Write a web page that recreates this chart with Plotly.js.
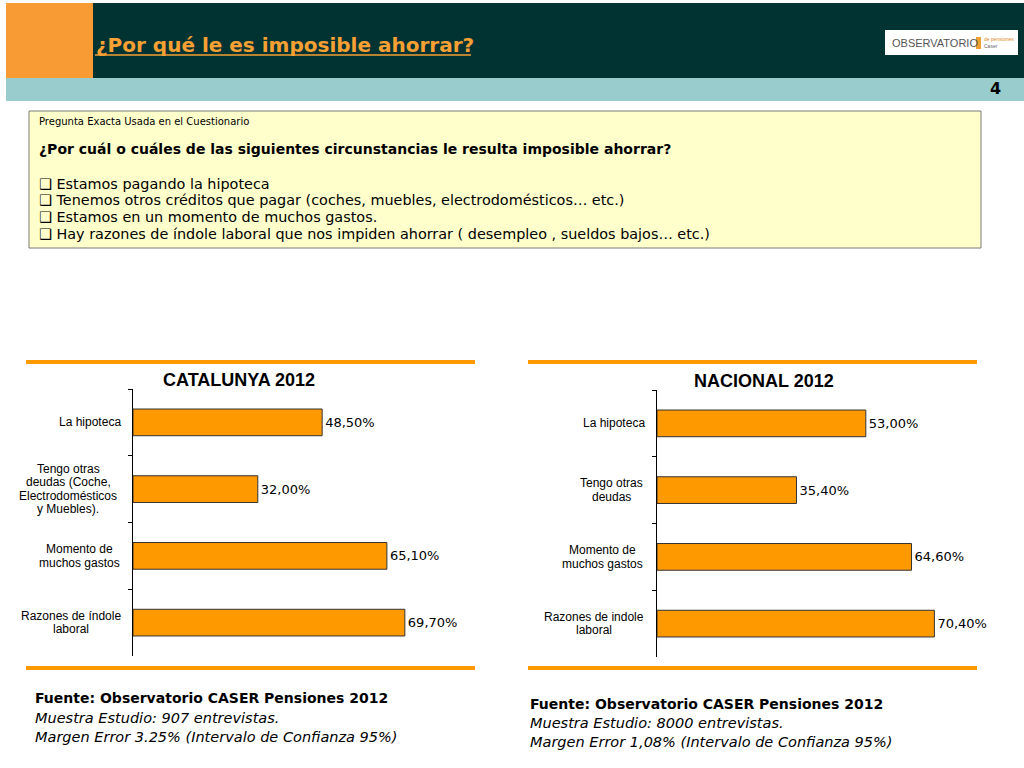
<!DOCTYPE html>
<html>
<head>
<meta charset="utf-8">
<script src="https://cdn.plot.ly/plotly-3.0.1.min.js"></script>
<style>html,body{margin:0;padding:0;background:#fff;}#chart{width:1024px;height:768px;}</style>
</head>
<body>
<div id="chart"></div>
<script>
// ---- Data ----
const categoriesCatalunya = ["La hipoteca", "Tengo otras<br>deudas (Coche,<br>Electrodomésticos<br>y Muebles).", "Momento de<br>muchos gastos", "Razones de índole<br>laboral"];
const valuesCatalunya = [48.5, 32.0, 65.1, 69.7];
const categoriesNacional = ["La hipoteca", "Tengo otras<br>deudas", "Momento de<br>muchos gastos", "Razones de indole<br>laboral"];
const valuesNacional = [53.0, 35.4, 64.6, 70.4];
const chartTitles = ["CATALUNYA 2012", "NACIONAL 2012"];
const pageTitle = "¿Por qué le es imposible ahorrar?";
const pageNumber = "4";
const questionHeader = "Pregunta Exacta Usada en el Cuestionario";
const questionText = "¿Por cuál o cuáles de las siguientes circunstancias le resulta imposible ahorrar?";
const questionOptions = [
  "Estamos pagando la hipoteca",
  "Tenemos otros créditos que pagar (coches, muebles, electrodomésticos… etc.)",
  "Estamos en un momento de muchos gastos.",
  "Hay razones de índole laboral que nos impiden ahorrar ( desempleo , sueldos bajos… etc.)"
];
const footerSource = "Fuente: Observatorio CASER Pensiones 2012";
const footerCatalunya = ["Muestra Estudio: 907 entrevistas.", "Margen Error 3.25% (Intervalo de Confianza 95%)"];
const footerNacional = ["Muestra Estudio: 8000 entrevistas.", "Margen Error 1,08% (Intervalo de Confianza 95%)"];

// ---- helpers ----
const W = 1024, H = 768;
const px = x => x / W;
const py = y => 1 - y / H;
const fmt = v => v.toFixed(2).replace('.', ',') + '%';
const VERDANA = 'DejaVu Sans, Verdana, sans-serif';
const ARIAL = 'Liberation Sans, Arial, sans-serif';

function barTrace(cats, vals, xa, ya) {
  return {
    type: 'bar', orientation: 'h', x: vals, y: cats, xaxis: xa, yaxis: ya,
    marker: {color: '#FF9900', line: {color: '#333333', width: 1}},
    text: vals.map(fmt), textposition: 'outside', cliponaxis: false,
    textfont: {family: VERDANA, size: 13, color: '#000'},
    hoverinfo: 'skip', showlegend: false
  };
}

const data = [
  barTrace(categoriesCatalunya, valuesCatalunya, 'x', 'y'),
  barTrace(categoriesNacional, valuesNacional, 'x2', 'y2')
];

function yax(domain, anchor) {
  return {
    domain: domain, anchor: anchor, type: 'category', autorange: 'reversed',
    showline: true, linecolor: '#000', linewidth: 1.5,
    ticks: 'outside', tickson: 'boundaries', ticklen: 4, tickcolor: '#000', tickwidth: 1,
    showticklabels: false, showgrid: false, zeroline: false, fixedrange: true
  };
}
function xax(domain, anchor) {
  return {domain: domain, anchor: anchor, range: [0, 80], visible: false, fixedrange: true};
}

const shapes = [
  // header
  {type: 'rect', xref: 'paper', yref: 'paper', x0: px(93), x1: px(1024), y0: py(78), y1: py(3), fillcolor: '#023333', line: {width: 0}, layer: 'below'},
  {type: 'rect', xref: 'paper', yref: 'paper', x0: px(6), x1: px(93), y0: py(78), y1: py(3), fillcolor: '#F89B35', line: {width: 0}, layer: 'below'},
  {type: 'rect', xref: 'paper', yref: 'paper', x0: px(6), x1: px(1024), y0: py(101), y1: py(78), fillcolor: '#99CCCC', line: {width: 0}, layer: 'below'},
  // title underline
  {type: 'line', xref: 'paper', yref: 'paper', x0: px(95), x1: px(471), y0: py(55), y1: py(55), line: {color: '#F7A033', width: 1.5}},
  // logo
  {type: 'rect', xref: 'paper', yref: 'paper', x0: px(885), x1: px(1018), y0: py(55), y1: py(30), fillcolor: '#FFFFFF', line: {width: 0}},
  {type: 'rect', xref: 'paper', yref: 'paper', x0: px(976), x1: px(981), y0: py(49), y1: py(37), fillcolor: '#F0A030', line: {width: 0}},
  // question box
  {type: 'rect', xref: 'paper', yref: 'paper', x0: px(29), x1: px(981), y0: py(248), y1: py(111), fillcolor: '#FFFFCC', line: {color: '#7a7a7a', width: 1}, layer: 'below'},
  // orange separator lines
  {type: 'line', xref: 'paper', yref: 'paper', x0: px(26), x1: px(475), y0: py(362), y1: py(362), line: {color: '#FF9900', width: 4}},
  {type: 'line', xref: 'paper', yref: 'paper', x0: px(26), x1: px(475), y0: py(668), y1: py(668), line: {color: '#FF9900', width: 4}},
  {type: 'line', xref: 'paper', yref: 'paper', x0: px(528), x1: px(977), y0: py(362), y1: py(362), line: {color: '#FF9900', width: 4}},
  {type: 'line', xref: 'paper', yref: 'paper', x0: px(528), x1: px(977), y0: py(668), y1: py(668), line: {color: '#FF9900', width: 4}}
];

function txt(text, x, y, size, opts) {
  return Object.assign({
    text: text, xref: 'paper', yref: 'paper', x: px(x), y: py(y), xanchor: 'left', yanchor: 'middle',
    showarrow: false, font: {family: VERDANA, size: size, color: '#000'}, align: 'left'
  }, opts || {});
}

const annotations = [
  txt('<b>' + pageTitle + '</b>', 94, 45, 20, {font: {family: VERDANA, size: 20, color: '#F7A033'}}),
  txt('<b>' + pageNumber + '</b>', 995, 88, 16, {xanchor: 'center'}),
  txt('OBSERVATORIO', 890, 43, 11, {font: {family: ARIAL, size: 11, color: '#555555'}}),
  txt('de pensiones', 982, 39, 5, {font: {family: ARIAL, size: 5, color: '#E08A20'}}),
  txt('Caser', 982, 46, 5, {font: {family: ARIAL, size: 5, color: '#666666'}}),
  txt(questionHeader, 37, 122, 10),
  txt('<b>' + questionText + '</b>', 37, 149, 14),
  txt('<b>' + chartTitles[0] + '</b>', 239, 380, 18, {xanchor: 'center', font: {family: ARIAL, size: 18, color: '#000'}}),
  txt('<b>' + chartTitles[1] + '</b>', 764, 381, 18, {xanchor: 'center', font: {family: ARIAL, size: 18, color: '#000'}}),
  txt('<b>' + footerSource + '</b>', 33, 698, 14),
  txt('<i>' + footerCatalunya[0] + '</i>', 33, 718, 14.5),
  txt('<i>' + footerCatalunya[1] + '</i>', 33, 737, 14.5),
  txt('<b>' + footerSource + '</b>', 528, 704, 14),
  txt('<i>' + footerNacional[0] + '</i>', 528, 723, 14.5),
  txt('<i>' + footerNacional[1] + '</i>', 528, 742, 14.5)
];
const optY = [184, 200.5, 217, 234];
questionOptions.forEach((o, i) => annotations.push(txt('❑ ' + o, 37, optY[i], 14.4)));

// category labels: one annotation per line, centred, placed through the y axis scale
const LINE = 13.5;
function catLabelsCentered(cats, yref, xCenterFn) {
  cats.forEach(c => {
    const lines = c.split('<br>');
    lines.forEach((ln, i) => annotations.push({
      text: ln, xref: 'paper', yref: yref, x: px(xCenterFn(c)), y: c, xanchor: 'center', yanchor: 'middle',
      yshift: -((i - (lines.length - 1) / 2) * LINE), showarrow: false,
      font: {family: ARIAL, size: 12, color: '#000'}
    }));
  });
}
const labelCentersCat = {};
labelCentersCat[categoriesCatalunya[0]] = 90;
labelCentersCat[categoriesCatalunya[1]] = 68;
labelCentersCat[categoriesCatalunya[2]] = 79;
labelCentersCat[categoriesCatalunya[3]] = 71;
const labelCentersNac = {};
labelCentersNac[categoriesNacional[0]] = 614;
labelCentersNac[categoriesNacional[1]] = 611;
labelCentersNac[categoriesNacional[2]] = 602;
labelCentersNac[categoriesNacional[3]] = 594;
catLabelsCentered(categoriesCatalunya, 'y', c => labelCentersCat[c]);
catLabelsCentered(categoriesNacional, 'y2', c => labelCentersNac[c]);

const layout = {
  width: W, height: H, margin: {l: 0, r: 0, t: 0, b: 0},
  paper_bgcolor: '#FFFFFF', plot_bgcolor: 'rgba(0,0,0,0)',
  showlegend: false, bargap: 0.6,
  xaxis: xax([px(133), px(133 + 3.9 * 80)], 'y'),
  yaxis: yax([py(656), py(389)], 'x'),
  xaxis2: xax([px(657), px(657 + 3.94 * 80)], 'y2'),
  yaxis2: yax([py(657), py(390)], 'x2'),
  shapes: shapes, annotations: annotations
};

Plotly.newPlot('chart', data, layout, {displayModeBar: false, staticPlot: true});
</script>
</body>
</html>
